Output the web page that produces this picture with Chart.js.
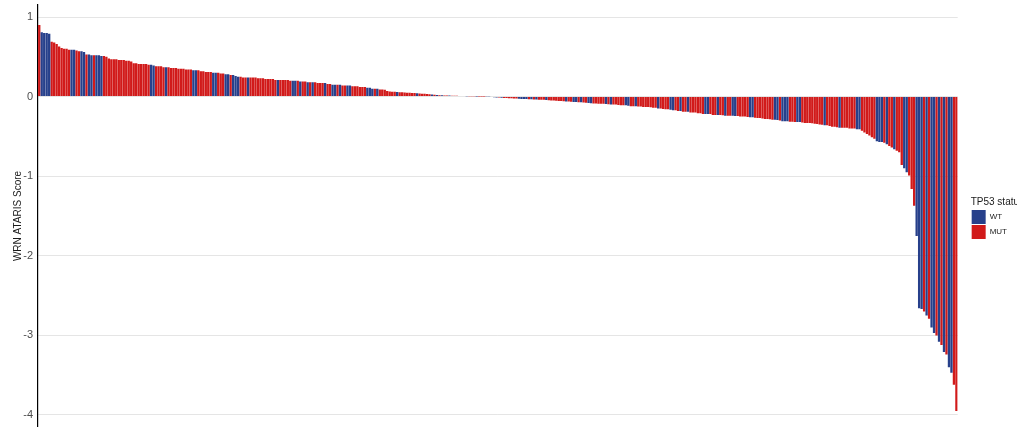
<!DOCTYPE html>
<html>
<head>
<meta charset="utf-8">
<script src="https://cdn.jsdelivr.net/npm/chart.js@4"></script>
<style>
  body { margin: 0; background: #fff; overflow: hidden; }
</style>
</head>
<body>
<canvas id="waterfall" width="1021" height="427"></canvas>
<script>
// WRN ATARIS score per cell line, sorted high to low
const scores = [
  0.90, 0.81, 0.80, 0.80, 0.79, 0.69, 0.68, 0.66, 0.63, 0.61,
  0.60, 0.60, 0.59, 0.59, 0.59, 0.58, 0.57, 0.57, 0.56, 0.53,
  0.53, 0.52, 0.52, 0.52, 0.52, 0.51, 0.51, 0.50, 0.48, 0.47,
  0.47, 0.47, 0.46, 0.46, 0.46, 0.45, 0.45, 0.44, 0.42, 0.42,
  0.41, 0.41, 0.41, 0.41, 0.40, 0.40, 0.39, 0.38, 0.38, 0.38,
  0.37, 0.37, 0.37, 0.36, 0.36, 0.36, 0.35, 0.35, 0.35, 0.34,
  0.34, 0.34, 0.33, 0.33, 0.33, 0.32, 0.32, 0.31, 0.31, 0.31,
  0.30, 0.30, 0.30, 0.29, 0.29, 0.28, 0.28, 0.27, 0.27, 0.26,
  0.25, 0.25, 0.24, 0.24, 0.24, 0.24, 0.24, 0.24, 0.23, 0.23,
  0.23, 0.22, 0.22, 0.22, 0.22, 0.21, 0.21, 0.21, 0.21, 0.21,
  0.21, 0.20, 0.20, 0.20, 0.20, 0.19, 0.19, 0.19, 0.18, 0.18,
  0.18, 0.18, 0.17, 0.17, 0.17, 0.17, 0.16, 0.16, 0.15, 0.15,
  0.15, 0.15, 0.14, 0.14, 0.14, 0.14, 0.13, 0.13, 0.13, 0.12,
  0.12, 0.12, 0.11, 0.11, 0.10, 0.10, 0.10, 0.09, 0.09, 0.085,
  0.07, 0.065, 0.06, 0.06, 0.058, 0.056, 0.055, 0.052, 0.05, 0.048,
  0.046, 0.044, 0.042, 0.04, 0.037, 0.035, 0.032, 0.03, 0.027, 0.024,
  0.02, 0.018, 0.017, 0.015, 0.014, 0.013, 0.012, 0.011, 0.01, 0.009,
  0.008, 0.007, 0.006, 0.005, 0.004, 0.003, 0.002, 0.0015, 0.001, 0.0005,
  -0.0005, -0.002, -0.005, -0.008, -0.01, -0.012, -0.014, -0.016, -0.018, -0.02,
  -0.022, -0.024, -0.025, -0.027, -0.029, -0.03, -0.031, -0.033, -0.034, -0.035,
  -0.037, -0.039, -0.04, -0.041, -0.043, -0.045, -0.048, -0.05, -0.052, -0.055,
  -0.056, -0.058, -0.06, -0.062, -0.065, -0.067, -0.069, -0.07, -0.072, -0.075,
  -0.077, -0.08, -0.082, -0.085, -0.087, -0.089, -0.09, -0.091, -0.093, -0.095,
  -0.10, -0.10, -0.10, -0.105, -0.11, -0.11, -0.11, -0.115, -0.12, -0.12,
  -0.12, -0.125, -0.125, -0.13, -0.13, -0.13, -0.135, -0.14, -0.14, -0.15,
  -0.15, -0.155, -0.16, -0.16, -0.165, -0.17, -0.17, -0.18, -0.18, -0.19,
  -0.19, -0.19, -0.20, -0.20, -0.20, -0.21, -0.21, -0.22, -0.22, -0.22,
  -0.22, -0.23, -0.23, -0.23, -0.23, -0.235, -0.24, -0.24, -0.24, -0.24,
  -0.245, -0.245, -0.25, -0.25, -0.25, -0.255, -0.26, -0.26, -0.265, -0.27,
  -0.27, -0.275, -0.28, -0.28, -0.285, -0.29, -0.29, -0.295, -0.30, -0.31,
  -0.31, -0.31, -0.315, -0.315, -0.32, -0.32, -0.32, -0.325, -0.33, -0.33,
  -0.33, -0.335, -0.34, -0.345, -0.35, -0.355, -0.36, -0.36, -0.37, -0.38,
  -0.38, -0.385, -0.39, -0.39, -0.39, -0.39, -0.40, -0.40, -0.40, -0.41,
  -0.41, -0.43, -0.45, -0.47, -0.49, -0.51, -0.53, -0.56, -0.57, -0.57,
  -0.58, -0.60, -0.62, -0.64, -0.66, -0.68, -0.70, -0.86, -0.90, -0.95,
  -0.99, -1.16, -1.37, -1.75, -2.66, -2.67, -2.70, -2.75, -2.79, -2.90,
  -2.97, -3.00, -3.08, -3.12, -3.21, -3.24, -3.40, -3.47, -3.62, -3.95
];

// TP53 status of the same cell lines, M = MUT, W = WT
const tp53 = (
  'MWWWWMMMMM' + 'MMMWWMMWWM' + 'WWMWWWMMMM' + 'MMMMMMMMMM' + 'MMMMMWWMMM' +
  'MWMMMMMMMM' + 'MMWWMMMMMM' + 'WWMMMWWMWW' + 'WMMMWMMMMM' + 'MMMMMMWMMM' +
  'MMWWMWMMWM' + 'WMMMMWMMWW' + 'MWMMWWMMMM' + 'MMWWWMWMMM' + 'MMMMWMMMMM' +
  'MMWMMMMMWM' + 'WMWMMWMMMW' + 'MMWMMMWMMM' + 'WWMWWMWMMM' + 'MMMWWWWMWM' +
  'WMMMWMMMMM' + 'MMWMMWWMWM' + 'MWWMMMMMWM' + 'WMMMMMWWMM' + 'WMMMMMMMMW' +
  'MMMMWWMMWM' + 'MWMMMMMMWW' + 'MMMWMMWMMW' + 'WMMMMMWWMM' + 'MMMMMMWWMW' +
  'WWMMMWWMMM' + 'MMMMMMWMMM' + 'MMWMMMMMMW' + 'WMMMMMMWWW' + 'MWMMWMMMWW' +
  'MMMWWWMWMW' + 'WMWMWMWWMM'
).split('');

const statusLabels = { W: 'WT', M: 'MUT' };
const statusColors = { W: '#27408B', M: '#D11A1A' };
const yTicks = [1, 0, -1, -2, -3, -4];

const cellLines = scores.map((_, i) => i + 1);

const datasets = Object.keys(statusLabels).map(key => ({
  label: statusLabels[key],
  data: scores.map((v, i) => (tp53[i] === key ? v : null)),
  backgroundColor: statusColors[key],
  borderWidth: 0,
  grouped: false,
  barPercentage: 0.94,
  categoryPercentage: 1.0
}));

Chart.defaults.font.family = "'Liberation Sans', Arial, sans-serif";

new Chart(document.getElementById('waterfall'), {
  type: 'bar',
  data: { labels: cellLines, datasets: datasets },
  options: {
    responsive: false,
    animation: false,
    devicePixelRatio: 1,
    layout: { padding: { top: 5, right: 4, bottom: 0, left: 0 } },
    plugins: {
      tooltip: { enabled: false },
      legend: {
        position: 'right',
        align: 'center',
        title: {
          display: true,
          text: 'TP53 status',
          position: 'start',
          color: '#1a1a1a',
          font: { size: 10 },
          padding: { top: 5, bottom: 0 }
        },
        labels: {
          boxWidth: 14,
          boxHeight: 14,
          padding: 1,
          color: '#1a1a1a',
          font: { size: 8 }
        }
      }
    },
    scales: {
      x: { display: false },
      y: {
        min: -4.151,
        max: 1.151,
        afterBuildTicks: axis => { axis.ticks = yTicks.map(v => ({ value: v })); },
        afterFit: axis => {
          axis.width = 38;
          axis.paddingTop = 0;
          axis.paddingBottom = 0;
        },
        grid: { color: '#e5e5e5', lineWidth: 1, drawTicks: false },
        border: { display: true, color: '#000', width: 1.2 },
        ticks: { color: '#4d4d4d', font: { size: 11 }, padding: 5 },
        title: {
          display: true,
          text: 'WRN ATARIS Score',
          color: '#1a1a1a',
          font: { size: 10 },
          padding: { top: 12 }
        }
      },
      gap: {
        position: 'right',
        display: true,
        grid: { display: false },
        border: { display: false },
        ticks: { display: false },
        afterFit: axis => {
          axis.width = 13;
          axis.paddingTop = 0;
          axis.paddingBottom = 0;
        }
      }
    }
  }
});
</script>
</body>
</html>
